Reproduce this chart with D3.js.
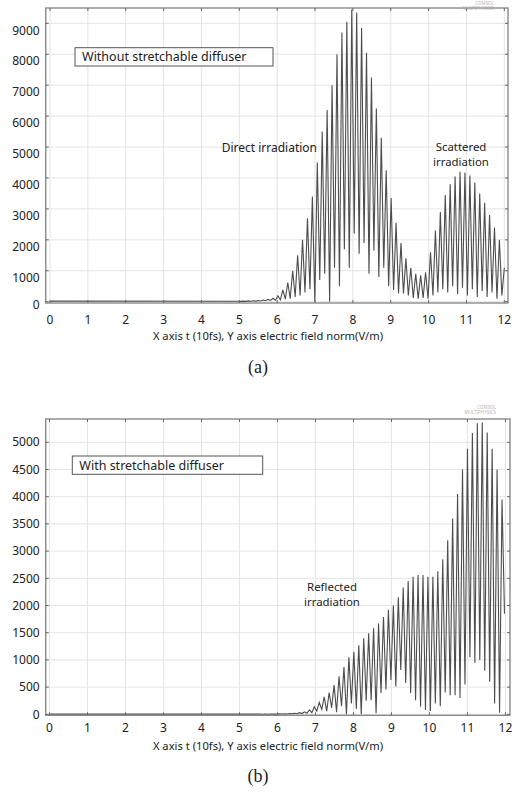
<!DOCTYPE html>
<html>
<head>
<meta charset="utf-8">
<script src="https://cdn.jsdelivr.net/npm/d3@7"></script>
<style>
  html, body { margin: 0; padding: 0; background: #fff; }
  svg { display: block; }
  text { font-family: "Noto Sans", "Open Sans", sans-serif; fill: #222; }
</style>
</head>
<body>
<svg id="chart" width="517" height="794"></svg>
<script>
// ---- data -------------------------------------------------------------
// time axis in units of 10 fs
const xTickValues = [0, 1, 2, 3, 4, 5, 6, 7, 8, 9, 10, 11, 12];

// (a) without diffuser: electric field norm (V/m), one peak per oscillation
const yTicksA = [0, 1000, 2000, 3000, 4000, 5000, 6000, 7000, 8000, 9000];
const baseA = 20;          // quiet level before the pulse arrives
const startA = 4.98;       // time of the first peak
const stepA = 0.13;        // spacing between neighbouring peaks
const peaksA = [15, 20, 25, 30, 40, 55, 75, 110, 190, 380,
  620, 1000, 1500, 2000, 2700, 3400, 4500, 5500, 6200, 7000,
  8000, 8700, 9050, 9450, 9350, 8850, 8050, 7250, 6250, 5300,
  4250, 3350, 2550, 1900, 1400, 1100, 900, 850, 950, 1600,
  2300, 2900, 3450, 3800, 4050, 4200, 4180, 4080, 3850, 3500,
  3200, 2800, 2400, 2000, 1100];
const troughsA = [10, 12, 15, 18, 22, 30, 40, 50, 60, 80,
  100, 150, 200, 300, 400, 0, 700, 900, 0, 1100,
  500, 1700, 1100, 2200, 1550, 1900, 900, 1650, 800, 1100,
  500, 380, 270, 270, 200, 120, 100, 120, 100, 200,
  300, 400, 300, 500, 250, 450, 200, 400, 150, 350,
  150, 300, 100, 200];

// (b) with diffuser
const yTicksB = [0, 500, 1000, 1500, 2000, 2500, 3000, 3500, 4000, 4500, 5000];
const baseB = 3;
const startB = 5.54;
const stepB = 0.13;
const peaksB = [3, 4, 5, 6, 8, 10, 14, 20, 30, 45,
  80, 140, 220, 320, 400, 540, 700, 870, 1050, 1150,
  1270, 1400, 1490, 1580, 1670, 1790, 1920, 2000, 2150, 2330,
  2450, 2530, 2560, 2560, 2530, 2530, 2630, 2850, 3200, 3600,
  4050, 4500, 4880, 5170, 5350, 5370, 5180, 4880, 4500, 3950];
const troughsB = [2, 2, 3, 4, 5, 6, 8, 10, 14, 20,
  30, 60, 90, 60, 120, 40, 150, 0, 200, 100,
  0, 250, 260, 20, 390, 450, 630, 510, 815, 575,
  390, 260, 140, 80, 60, 200, 150, 400, 350, 350,
  300, 550, 1050, 950, 1000, 800, 600, 200, 30, 1850];

// ---- drawing ------------------------------------------------------------
const svg = d3.select("#chart");

function seriesPoints(base, start, step, peaks, troughs) {
  const pts = [[0, base]];
  peaks.forEach((p, k) => {
    const t = start + k * step;
    pts.push([t, p]);
    if (k < troughs.length) pts.push([t + step / 2, troughs[k]]);
  });
  return pts;
}

function panel(opt) {
  const g = svg.append("g");
  const x = d3.scaleLinear().domain(opt.xDomain).range([opt.left, opt.right]);
  const y = d3.scaleLinear().domain(opt.yDomain).range([opt.bottom, opt.top]);

  // grid
  g.append("g").selectAll("line").data(xTickValues).join("line")
    .attr("x1", d => x(d)).attr("x2", d => x(d))
    .attr("y1", opt.top).attr("y2", opt.bottom)
    .attr("stroke", "#e4e4e4").attr("stroke-width", 1);
  g.append("g").selectAll("line").data(opt.yTicks).join("line")
    .attr("x1", opt.left).attr("x2", opt.right)
    .attr("y1", d => y(d)).attr("y2", d => y(d))
    .attr("stroke", "#e4e4e4").attr("stroke-width", 1);

  // signal
  const line = d3.line().x(d => x(d[0])).y(d => y(d[1]));
  g.append("path")
    .datum(seriesPoints(opt.base, opt.start, opt.step, opt.peaks, opt.troughs))
    .attr("d", line)
    .attr("fill", "none")
    .attr("stroke", "#4d4d4d")
    .attr("stroke-width", 1.1)
    .attr("stroke-linejoin", "miter");

  // frame
  g.append("rect")
    .attr("x", opt.left).attr("y", opt.top)
    .attr("width", opt.right - opt.left).attr("height", opt.bottom - opt.top)
    .attr("fill", "none").attr("stroke", "#8a8a8a").attr("stroke-width", 1.4);

  // inward ticks on all four sides
  const tk = 3;
  const ticks = g.append("g").attr("stroke", "#666").attr("stroke-width", 1);
  xTickValues.forEach(d => {
    ticks.append("line").attr("x1", x(d)).attr("x2", x(d)).attr("y1", opt.bottom).attr("y2", opt.bottom - tk);
    ticks.append("line").attr("x1", x(d)).attr("x2", x(d)).attr("y1", opt.top).attr("y2", opt.top + tk);
  });
  opt.yTicks.forEach(d => {
    ticks.append("line").attr("y1", y(d)).attr("y2", y(d)).attr("x1", opt.left).attr("x2", opt.left + tk);
    ticks.append("line").attr("y1", y(d)).attr("y2", y(d)).attr("x1", opt.right).attr("x2", opt.right - tk);
  });

  // tick labels
  g.append("g").selectAll("text").data(xTickValues).join("text")
    .attr("x", d => x(d)).attr("y", opt.bottom + opt.xLabelGap)
    .attr("text-anchor", "middle").attr("font-size", 12)
    .text(d => d);
  g.append("g").selectAll("text").data(opt.yTicks).join("text")
    .attr("x", opt.left - 6).attr("y", d => y(d) + opt.yLabelShift(d))
    .attr("dy", "0.35em")
    .attr("text-anchor", "end").attr("font-size", 12)
    .text(d => d);

  // axis title
  g.append("text")
    .attr("x", 268).attr("y", opt.bottom + opt.titleGap)
    .attr("text-anchor", "middle").attr("font-size", 11.2)
    .text("X axis t (10fs), Y axis electric field norm(V/m)");

  // legend box
  g.append("rect")
    .attr("x", opt.legend.x).attr("y", opt.legend.y)
    .attr("width", opt.legend.w).attr("height", opt.legend.h)
    .attr("fill", "#fff").attr("stroke", "#555").attr("stroke-width", 1);
  g.append("text")
    .attr("x", opt.legend.x + 7).attr("y", opt.legend.y + opt.legend.h / 2)
    .attr("dy", "0.35em").attr("font-size", 12.5)
    .text(opt.legend.text);

  // annotations, one text element per line
  opt.notes.forEach(n => {
    n.lines.forEach((s, i) => {
      g.append("text")
        .attr("x", n.x).attr("y", n.y + i * 15.6)
        .attr("text-anchor", n.anchor)
        .attr("font-size", n.lines.length > 1 ? 11.4 : 12)
        .text(s);
    });
  });

  // software watermark
  const wm = g.append("text")
    .attr("x", opt.right - 14).attr("y", opt.wmY)
    .attr("text-anchor", "end").attr("font-size", 4.5)
    .style("fill", "#b5b5b5");
  wm.append("tspan").attr("x", opt.right - 14).text("COMSOL");
  wm.append("tspan").attr("x", opt.right - 14).attr("dy", 5).text("MULTIPHYSICS");

  // caption
  svg.append("text")
    .attr("x", 258).attr("y", opt.captionY)
    .attr("text-anchor", "middle")
    .style("font-family", "'Liberation Serif', 'Times New Roman', serif")
    .attr("font-size", 18)
    .text(opt.caption);
}

panel({
  left: 45.7, right: 508, top: 8, bottom: 303,
  xDomain: [-0.114, 12.097], yDomain: [-42, 9496],
  yTicks: yTicksA,
  yLabelShift: d => (d === 0 ? 3 : 7),
  xLabelGap: 21, titleGap: 37, wmY: 5,
  base: baseA, start: startA, step: stepA, peaks: peaksA, troughs: troughsA,
  legend: { x: 75, y: 47.7, w: 198, h: 18.3, text: "Without stretchable diffuser" },
  notes: [
    { x: 317, y: 152, anchor: "end", lines: ["Direct irradiation"] },
    { x: 461, y: 150.5, anchor: "middle", lines: ["Scattered", "irradiation"] }
  ],
  caption: "(a)", captionY: 373
});

panel({
  left: 45.7, right: 510, top: 419, bottom: 715.3,
  xDomain: [-0.1, 12.12], yDomain: [-18, 5428],
  yTicks: yTicksB,
  yLabelShift: () => 0,
  xLabelGap: 17, titleGap: 35, wmY: 409,
  base: baseB, start: startB, step: stepB, peaks: peaksB, troughs: troughsB,
  legend: { x: 72.3, y: 456, w: 190.4, h: 18.3, text: "With stretchable diffuser" },
  notes: [
    { x: 332, y: 590.5, anchor: "middle", lines: ["Reflected", "irradiation"] }
  ],
  caption: "(b)", captionY: 782
});
</script>
</body>
</html>
